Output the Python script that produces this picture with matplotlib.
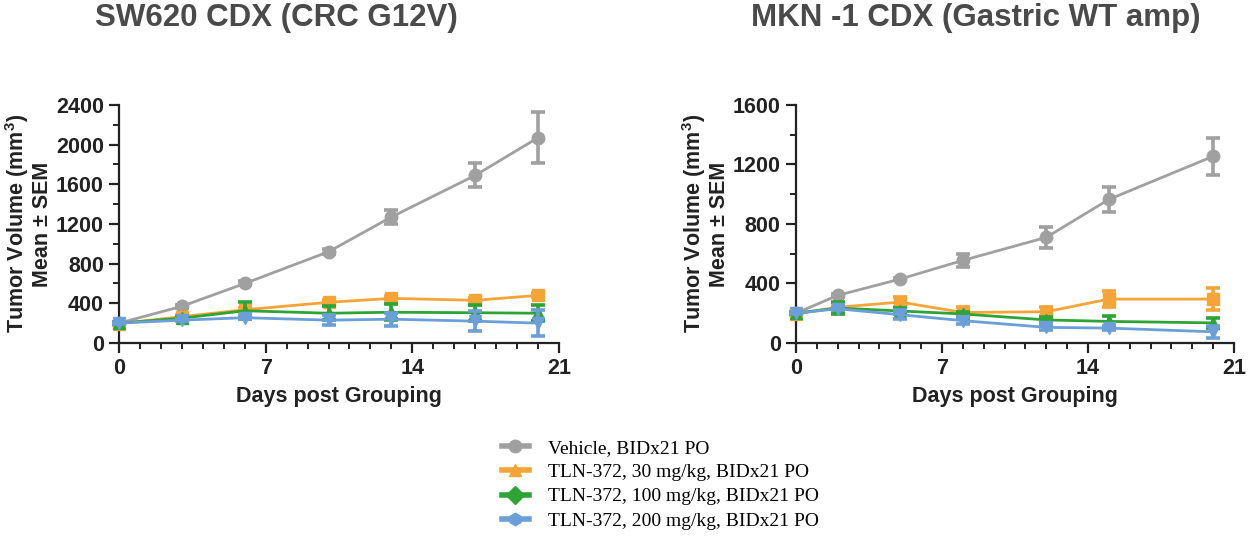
import numpy as np
import matplotlib
matplotlib.use('Agg')
import matplotlib.pyplot as plt
from matplotlib.lines import Line2D
from matplotlib.ticker import MultipleLocator

plt.rcParams['font.family'] = ['Liberation Sans', 'DejaVu Sans']
plt.rcParams['mathtext.fontset'] = 'custom'
plt.rcParams['mathtext.bf'] = 'Liberation Sans:bold'
plt.rcParams['mathtext.rm'] = 'Liberation Sans:bold'

# SW620 CDX
days_sw = [0, 3, 6, 10, 13, 17, 20]
veh_sw = [200, 370, 600, 920, 1270, 1690, 2070]
veh_sw_err = [10, 15, 20, 25, 70, 120, 260]
t30_sw = [195, 265, 335, 410, 450, 430, 480]
t30_sw_err = [10, 15, 20, 20, 20, 20, 20]
t100_sw = [200, 250, 325, 300, 310, 305, 300]
t100_sw_err = [10, 15, 85, 70, 80, 80, 80]
t200_sw = [200, 230, 255, 230, 240, 220, 200]
t200_sw_err = [10, 10, 15, 50, 65, 100, 130]

# MKN-1 CDX
days_mk = [0, 2, 5, 8, 12, 15, 20]
veh_mk = [200, 320, 430, 555, 710, 965, 1255]
veh_mk_err = [8, 10, 10, 45, 70, 85, 125]
t30_mk = [195, 240, 275, 205, 210, 295, 295]
t30_mk_err = [8, 30, 35, 35, 30, 55, 75]
t100_mk = [200, 235, 215, 195, 155, 145, 135]
t100_mk_err = [8, 40, 20, 15, 20, 35, 35]
t200_mk = [200, 230, 190, 150, 105, 100, 75]
t200_mk_err = [8, 10, 30, 25, 20, 15, 40]

labels = ['Vehicle, BIDx21 PO',
          'TLN-372, 30 mg/kg, BIDx21 PO',
          'TLN-372, 100 mg/kg, BIDx21 PO',
          'TLN-372, 200 mg/kg, BIDx21 PO']
colors = ['#a0a0a0', '#f5a436', '#2ea336', '#6a9fd8']
plot_markers = ['o', 's', '^', 'v']
legend_markers = ['o', '^', 'D', 'h']

titles = ['SW620 CDX (CRC G12V)', 'MKN -1 CDX (Gastric WT amp)']
ymax = [2400, 1600]

fig = plt.figure(figsize=(12.48, 5.38), dpi=100)
ax1 = fig.add_axes([0.0954, 0.3625, 0.3525, 0.4424])
ax2 = fig.add_axes([0.6378, 0.3625, 0.3510, 0.4424])

datasets = [
    (ax1, days_sw, [(veh_sw, veh_sw_err), (t30_sw, t30_sw_err), (t100_sw, t100_sw_err), (t200_sw, t200_sw_err)]),
    (ax2, days_mk, [(veh_mk, veh_mk_err), (t30_mk, t30_mk_err), (t100_mk, t100_mk_err), (t200_mk, t200_mk_err)]),
]

for i, (ax, days, series) in enumerate(datasets):
    # draw high dose first so vehicle ends on top
    for j in [3, 2, 0, 1]:
        y, e = series[j]
        ax.errorbar(days, y, yerr=e, color=colors[j], marker=plot_markers[j], markersize=9,
                    linewidth=2.0, elinewidth=2.6, capsize=5, capthick=2.6, clip_on=False, zorder=3 + j)
    ax.set_xlim(0, 21)
    ax.set_ylim(0, ymax[i])
    ax.xaxis.set_major_locator(MultipleLocator(7))
    ax.xaxis.set_minor_locator(MultipleLocator(1))
    ax.yaxis.set_major_locator(MultipleLocator(400))
    ax.yaxis.set_minor_locator(MultipleLocator(200))
    for s in ['top', 'right']:
        ax.spines[s].set_visible(False)
    for s in ['left', 'bottom']:
        ax.spines[s].set_linewidth(1.6)
        ax.spines[s].set_color('#222222')
    ax.tick_params(which='major', length=7, width=1.6, labelsize=15.5, pad=4, color='#222222')
    ax.tick_params(which='minor', length=4, width=1.4, color='#222222')
    for lab in ax.get_xticklabels() + ax.get_yticklabels():
        lab.set_fontweight('bold')
        lab.set_color('#222222')
    ax.set_xlabel('Days post Grouping', fontsize=15.5, fontweight='bold', color='#222222', labelpad=5)
    ax.set_ylabel('Tumor Volume (mm$^\\mathbf{3}$)\nMean ± SEM', fontsize=15.5, fontweight='bold',
                  color='#222222', labelpad=2, linespacing=1.05)

fig.text(0.076, 0.967, titles[0], fontsize=22.5, fontweight='bold', color='#4a4a4a',
         ha='left', va='center')
fig.text(0.602, 0.967, titles[1], fontsize=22.5, fontweight='bold', color='#4a4a4a',
         ha='left', va='center')

handles = [Line2D([], [], color=colors[k], marker=legend_markers[k], markersize=9, linewidth=4)
           for k in range(4)]
fig.legend(handles, labels, loc='upper left', bbox_to_anchor=(0.402, 0.184),
           frameon=False, prop={'family': 'Liberation Serif', 'size': 14},
           handlelength=1.4, handletextpad=1.0, labelspacing=0.35,
           borderpad=0, borderaxespad=0, bbox_transform=fig.transFigure)

fig.savefig('out.png', dpi=100)
